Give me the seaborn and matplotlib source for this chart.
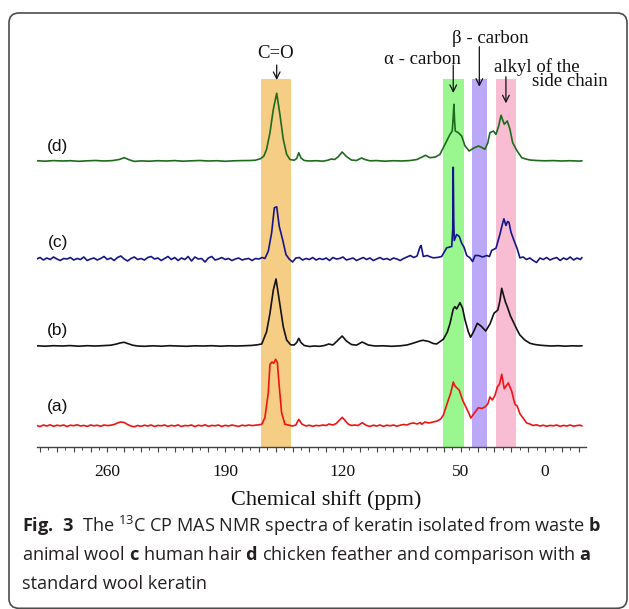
import numpy as np
import pandas as pd
import matplotlib
matplotlib.use("Agg")
import matplotlib.pyplot as plt
import seaborn as sns
from matplotlib.patches import FancyBboxPatch
from matplotlib.ticker import FixedLocator, MultipleLocator

# ---- spectra (ppm, intensity above baseline) ----
d_ppm = [302, 297, 292, 287, 282, 277, 272, 267, 262, 257,
         253, 250, 247, 244, 240, 235, 230, 225, 220, 215,
         210, 205, 200, 195, 190, 185, 180, 175, 172, 169,
         167, 165.4, 163.4, 161.4, 159.4, 157.5, 155.5, 153.5, 151.5, 149,
         147.5, 146.3, 145, 143, 140, 136, 132, 129, 127, 125,
         123, 120.5, 118, 115, 112, 109, 107, 104, 100, 95,
         90, 85, 80, 76, 73, 71, 69, 68.3, 65, 62.4,
         59.4, 56.4, 55.1, 54.6, 54.1, 53.7, 53.3, 51.5, 49.5, 47.5,
         45, 42.6, 39.6, 37.5, 35.7, 34, 32.7, 30.7, 29.1, 27.5,
         26.1, 24.2, 22.4, 20.8, 19.2, 16.8, 13.8, 11, 8.9, 5,
         0, -5, -10, -15, -20, -22]
d_int = [0.3, -0.2, 0.4, 0, 0.3, -0.3, 0.2, 0.5, 0, 0.4,
         1.5, 3.3, 1.2, -0.4, 0.1, -0.2, 0.3, 0, 0.4, -0.2,
         0.2, 0.5, 0, 0.3, -0.3, 0.2, 0.4, 0.5, 0.8, 2.3,
         5, 11.7, 28.3, 51.7, 67.7, 46.7, 21.7, 6.7, 1.5, 0.8,
         2.5, 8.3, 3, 0.5, 0, 0.3, -0.2, 0.8, 2, 1.5,
         4, 9, 4.5, 1, 0.5, 3, 1.5, 0.2, 0.4, -0.2,
         0.3, 0, 0.5, 1.5, 4, 5.7, 3.8, 3.3, 4, 6.7,
         16.7, 26.7, 30, 42, 56.7, 40, 30, 28.3, 25, 15,
         10, 12.7, 15, 13.5, 11.7, 18, 28.3, 30, 26.7, 35,
         45.7, 36.7, 40, 31.7, 18.3, 10.7, 3.3, 1.8, 1, 0.5,
         0.2, 0.4, 0, 0.3, -0.1, 0.2]

c_ppm = [302, 300, 298, 296, 294, 292, 290, 288, 286, 284,
         282, 280, 278, 276, 274, 272, 270, 268, 266, 264,
         262, 260, 258, 256, 254, 252, 250, 248, 246, 244,
         242, 240, 238, 236, 234, 232, 230, 228, 226, 224,
         222, 220, 218, 216, 214, 212, 210, 208, 206, 204,
         202, 200, 198, 196, 194, 192, 190, 188, 186, 184,
         182, 180, 178, 176, 174, 172, 170, 168, 166.4, 164.4,
         162.4, 160.8, 159.4, 157.9, 155.9, 153.9, 152, 150, 148, 146,
         144, 142, 140, 138, 136, 134, 132, 130, 128, 126,
         124, 122, 120, 118, 116, 114, 112, 110, 108, 106,
         104, 102, 100, 98, 96, 94, 92, 90, 88, 86,
         84, 82, 80, 78, 76, 74.3, 73.6, 72.3, 70, 68,
         66.4, 64, 61.4, 58.4, 55.4, 54.8, 54.5, 54.2, 53.9, 52.5,
         50.9, 49.5, 48.1, 46.5, 44.6, 43, 41.5, 39.6, 37, 34.6,
         33, 31.7, 29.1, 26.7, 25.2, 24.4, 23.2, 22.2, 21.4, 20.2,
         18.4, 16.5, 14.9, 13, 11, 9, 7, 5, 3, 1,
         -1, -3, -5, -7, -9, -11, -13, -15, -17, -19,
         -21, -22]
c_int = [0.5, 2, -0.5, 1.5, 0, 2.5, 0.5, -1, 1, 0.5,
         2, -0.5, 1, 0, 2.5, -1, 0.5, 1.5, -0.5, 1,
         3, 0, 1.5, -1, 2, 3.5, 0.5, -1.5, 1, 2.5,
         0, 1, -0.5, 2, 3, 0.5, 1.5, -1, 1, 3,
         0, 2, -1, 1.5, 0, 3, -1.5, 2.5, 0.5, 1,
         -2.5, 1.5, 3, -0.5, 0.5, 2, 0, 1, -1, 0.5,
         1.5, -0.5, 0.5, 1, -1, 1, 0.5, 2, 1, 8.3,
         26.7, 51.7, 52.7, 33.3, 20, 5, 0.5, -2.5, 1.5, 2,
         -0.5, 1, 0, 2, -0.5, 1, 0, 1.5, -1, 2,
         0.5, 1, 2.5, -0.5, 0.5, 1.5, -1, 0.5, 2, 0,
         1.5, -1, 0.5, 2, 0, 1, -0.5, 1.5, 0.5, -1,
         1, 2.5, 4, 2, 3.5, 12.3, 14, 3, 4, 2.5,
         1.7, 2, 3, 11.7, 13, 30, 92.3, 40, 19, 25,
         23, 16.3, 12.3, 4, 1.7, -2, 4, 4, 2.5, 4,
         3, 9, 11.3, 25.7, 36, 40.7, 34, 38, 37.3, 27.3,
         19, 10.7, 1.7, 2.5, 0, 1.5, -1, -3, 1.5, 0,
         2, -0.5, 1, 2, -1, 1.5, 0, 2.5, -0.5, 1.5,
         0, 2]

b_ppm = [302, 297, 292, 287, 282, 277, 272, 267, 262, 258,
         255, 252, 250, 248, 245, 242, 238, 233, 228, 223,
         218, 213, 208, 203, 198, 193, 188, 183, 178, 174,
         171, 168.3, 165.4, 163.4, 161.4, 159.8, 157.9, 155.5, 153.5, 151.1,
         149, 147.5, 146.3, 145, 143, 140, 137, 134, 131, 128.5,
         126, 123.5, 120.5, 118, 115, 112, 108.6, 105, 101, 96,
         91, 86, 82, 78, 74, 72.4, 69, 66.4, 64.4, 60.4,
         58, 56.4, 54.5, 53.5, 52.5, 50.5, 49, 47.5, 45.5, 44.2,
         42.5, 40.2, 38, 35.2, 32.7, 30.3, 28, 26.8, 25.7, 24.5,
         23.5, 22.4, 20.5, 18.4, 16.5, 14.9, 12, 8.9, 6, 3,
         0, -4, -8, -12, -16, -20, -22]
b_int = [0.2, -0.2, 0.3, 0, 0.4, -0.2, 0.3, 0, 0.4, 0.8,
         1.8, 3.2, 3.7, 2.5, 0.8, 0, -0.3, 0.2, -0.2, 0.3,
         0, -0.3, 0.2, 0, 0.3, -0.2, 0.2, 0, 0.3, 0.6,
         1.2, 2, 14.3, 32.7, 56, 67, 46, 19.3, 6, 1.2,
         1, 3.5, 7.7, 3.5, 0.5, -0.5, 0, -0.3, 0.5, 2,
         1, 5, 10, 5, 1.5, 0.8, 4, 1, 0, 0.2,
         -0.3, 0.2, 1, 3, 5.2, 5.7, 4.5, 2.5, 2, 6.7,
         14, 22.7, 37, 39.3, 37, 43.3, 38, 26, 14, 8.7,
         14, 22.7, 20, 15, 22, 32.7, 36, 45, 57.7, 50,
         44, 39.3, 30, 22.7, 16, 11, 6, 2.7, 1.5, 0.8,
         0.4, 0, 0.3, -0.2, 0.2, 0, 0.2]

a_ppm = [302, 300, 298, 296, 294, 292, 290, 288, 286, 284,
         282, 280, 278, 276, 274, 272, 270, 268, 266, 264,
         262, 260, 258, 256, 254, 252.3, 250, 248, 246, 244,
         242, 240, 238, 236, 234, 232, 230, 228, 226, 224,
         222, 220, 218, 216, 214, 212, 210, 208, 206, 204,
         202, 200, 198, 196, 194, 192, 190, 188, 186, 184,
         182, 180, 178, 176, 174, 172, 170, 168.3, 166.4, 164.4,
         163.4, 162.2, 161.2, 160, 159, 157.9, 156.5, 154.5, 152.5, 150,
         148, 146.3, 144.5, 142, 140, 138, 136, 134, 132, 130,
         128.4, 126, 124, 122, 120.5, 119, 117, 115, 113, 111,
         108.6, 106, 104, 102, 100, 98, 96, 94, 92, 90,
         88, 86, 84, 82, 80, 78, 76, 74, 73.3, 71.3,
         69, 66.4, 64, 62, 60.4, 57.5, 56, 54.5, 53.5, 52.9,
         50.9, 48.9, 46.5, 45, 44.1, 42.2, 39.6, 37.5, 35.7, 34,
         32.7, 31.2, 29.7, 28.3, 27, 25.7, 24.2, 21.8, 19.8, 18.5,
         17.8, 16.5, 14.9, 13, 10.9, 9, 7, 5, 3, 1,
         -1, -3, -5, -7, -9, -11, -13, -15, -17, -19,
         -21, -22]
a_int = [0.5, -0.5, 1, 0, 1.2, -0.3, 0.8, 0.2, 1, -0.5,
         0.8, 0.3, 1.2, 0, 0.6, -0.4, 1, 0.2, 0.8, -0.3,
         1, 0.4, 0.8, 1.5, 3, 4, 3.5, 1.5, 0, -0.8,
         0.5, -0.3, 0.8, 0, 1, -0.5, 0.6, 0.2, 1, -0.4,
         0.7, 0, 1.1, -0.5, 0.5, 0.2, 1, -0.6, 0.8, 0,
         1.2, -0.3, 0.6, 0.2, 1, -0.5, 0.7, 0, 1, 0.3,
         -0.4, 0.8, 0.2, 1, 0.4, 0.8, 1.2, 1.7, 8.3, 33.3,
         61.7, 64, 62.7, 66.7, 63.3, 40, 13.3, 1.7, 1, 0,
         1, 6.7, 2, 0, 0.8, -0.3, 0.6, 0.2, 1, 0.5,
         2, 1, 2.5, 6, 8.7, 6, 2, 0.5, 1, 0.5,
         3.3, 0.5, -0.4, 0.8, 0, 1, -0.3, 0.8, 0.2, 1,
         -0.2, 0.8, 1.5, 1, 2.5, 3, 2, 3.5, 1.7, 4,
         3, 4, 5, 7, 10.7, 25.7, 33, 44, 40, 39,
         35.7, 25.7, 17.3, 12, 8, 12.3, 18.3, 17.5, 19, 22,
         29, 26, 30.7, 39, 42, 51.7, 37.3, 43, 35, 26,
         21.7, 20, 12.3, 8, 3, 2, 0.5, 1.2, 0, 0.8,
         -0.3, 0.6, 0.2, 1, -0.4, 0.6, 0, 1, -0.2, 0.5,
         0.8, 0]

trace_labels = ["(d)", "(c)", "(b)", "(a)"]
tick_values = [260, 190, 120, 50, 0]

# shaded assignment regions (ppm)
band_edges = [(168.6, 150.7), (60.4, 48.1), (43.2, 34.6), (29.3, 17.4)]
band_colors = ["#f6cd85", "#9af790", "#bba8f7", "#f8bdd2"]

W, H = 629, 609
sns.set_theme(style="white")
plt.rcParams["font.family"] = ["Liberation Serif", "DejaVu Serif"]
plt.rcParams["mathtext.fontset"] = "custom"
plt.rcParams["mathtext.rm"] = "Open Sans"
plt.rcParams["mathtext.bf"] = "Open Sans:bold"

fig = plt.figure(figsize=(W / 100, H / 100), dpi=100)
ax = fig.add_axes([36.7 / W, 1 - 446.7 / H, 549 / W, 367.7 / H])

# rounded frame around the whole figure
frame = FancyBboxPatch((9 / W, 1 - 608.3 / H), 618 / W, 595.3 / H,
                       boxstyle="round,pad=0,rounding_size=0.016",
                       transform=fig.transFigure, fill=False,
                       edgecolor="#4d4d4d", linewidth=1.2, zorder=0)
fig.patches.append(frame)

for (hi, lo), col in zip(band_edges, band_colors):
    ax.axvspan(lo, hi, color=col, lw=0, zorder=0)

spectra = [(d_ppm, d_int, 285.7, "#1d6b1d"),
           (c_ppm, c_int, 187.2, "#15158a"),
           (b_ppm, b_int, 100.7, "#121212"),
           (a_ppm, a_int, 20.7, "#ee1414")]
for ppm, inten, base, col in spectra:
    df = pd.DataFrame({"ppm": ppm, "y": np.array(inten) + base})
    sns.lineplot(data=df, x="ppm", y="y", ax=ax, color=col, linewidth=1.2,
                 sort=False, estimator=None, zorder=3)

for lab, ly in zip(trace_labels, [300, 203.7, 115.7, 40]):
    ax.text(289.4, ly, lab, family="Liberation Sans", fontsize=12.5,
            ha="center", va="center", color="#111")

ax.set_xlim(302.0, -24.2)
ax.set_ylim(0, 367.7)
ax.set_xlabel("")
ax.set_ylabel("")
ax.set_yticks([])
for s in ["top", "left", "right"]:
    ax.spines[s].set_visible(False)
ax.spines["bottom"].set_color("#444")
ax.spines["bottom"].set_linewidth(1.0)
major = list(range(300, -30, -10))
ax.xaxis.set_major_locator(FixedLocator(major))
ax.set_xticklabels([str(v) if v in tick_values else "" for v in major])
ax.xaxis.set_minor_locator(MultipleLocator(5))
ax.tick_params(axis="x", which="major", direction="out", length=3.5, width=0.8,
               color="#444", pad=9, labelsize=12.5, labelcolor="#111", bottom=True)
ax.tick_params(axis="x", which="minor", direction="out", length=2, width=0.7,
               color="#444", bottom=True)

# peak annotations
arrow = dict(arrowstyle="->", color="#111", lw=0.9, shrinkA=0, shrinkB=0)
ann = [("C=O", 159.8, 393.7, 159.4, 381.7, 366.7),
       ("\u03b1 - carbon", 72.8, 386.7, 54.5, 381.7, 353.7),
       ("\u03b2 - carbon", 32.7, 408.4, 39.0, 400.0, 360.0)]
for txt, tx, ty, axx, y0, y1 in ann:
    ax.text(tx, ty, txt, fontsize=13.5, ha="center", va="center",
            color="#111", clip_on=False)
    ax.annotate("", xy=(axx, y1), xytext=(axx, y0), arrowprops=arrow,
                annotation_clip=False)
ax.text(4.9, 380.0, "alkyl of the", fontsize=13.5, ha="center", va="center",
        color="#111", clip_on=False)
ax.text(-14.6, 365.0, "side chain", fontsize=13.5, ha="center", va="center",
        color="#111", clip_on=False)
ax.annotate("", xy=(23.2, 343.4), xytext=(23.2, 370.0), arrowprops=arrow,
            annotation_clip=False)

fig.text(326 / W, 1 - 500 / H, "Chemical shift (ppm)", fontsize=16,
         ha="center", va="center", color="#111")

cap = ["$\\mathbf{Fig.\\ 3}$  The $^{13}$C CP MAS NMR spectra of keratin isolated from waste $\\mathbf{b}$",
       "animal wool $\\mathbf{c}$ human hair $\\mathbf{d}$ chicken feather and comparison with $\\mathbf{a}$",
       "standard wool keratin"]
for i, line in enumerate(cap):
    fig.text(22 / W, 1 - (532 + 28.5 * i) / H, line, family="Open Sans",
             fontsize=13.1, ha="left", va="baseline", color="#231f20")

fig.savefig("out.png", dpi=100)
